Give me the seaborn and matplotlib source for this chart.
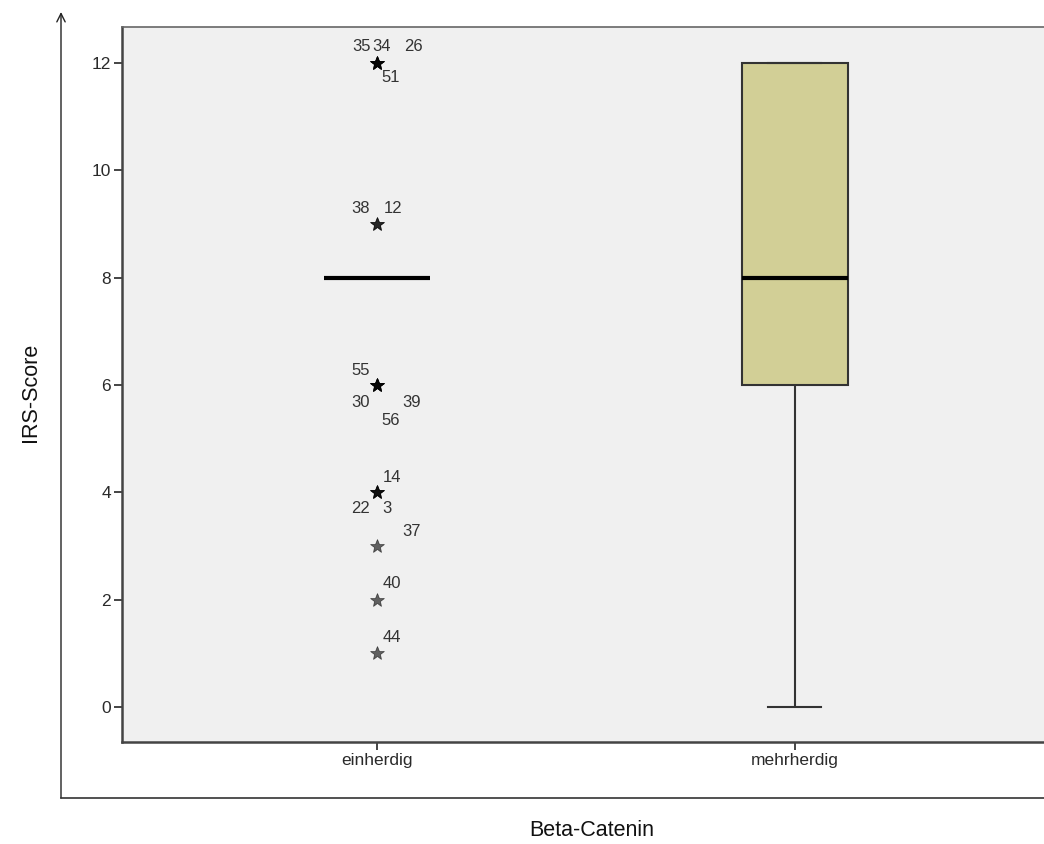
import numpy as np
import pandas as pd
import matplotlib
matplotlib.use("Agg")
import matplotlib.pyplot as plt
from matplotlib.lines import Line2D
from matplotlib.patches import FancyArrowPatch
import seaborn as sns

plt.rcParams["font.family"] = ["Liberation Sans", "DejaVu Sans"]

# ---- data -------------------------------------------------------------
groups = ["einherdig", "mehrherdig"]

# IRS scores per group (einherdig: bulk at 8 plus the labelled cases)
einherdig_scores = [8] * 26 + [12, 12, 12, 12, 9, 9, 6, 6, 6, 6, 4, 4, 4, 3, 2, 1]
mehrherdig_scores = [0, 2, 4, 6, 6, 6, 8, 8, 8, 9, 12, 12, 12, 12, 12]

# labelled cases of the einherdig group: score and case number
case_scores = [12, 12, 12, 12, 9, 9, 6, 6, 6, 6, 4, 4, 4, 3, 2, 1]
case_ids = ["35", "34", "26", "51", "38", "12", "55", "30", "39", "56",
            "14", "22", "3", "37", "40", "44"]

y_ticks = [0, 2, 4, 6, 8, 10, 12]
x_title = "Beta-Catenin"
y_title = "IRS-Score"

# label placement around each star (pixels)
label_offsets = [(-15, 16), (5, 16), (36, 16), (14, -15),
                 (-16, 16), (16, 16),
                 (-16, 15), (-16, -17), (35, -17), (14, -35),
                 (15, 15), (-16, -16), (10, -16),
                 (35, 15), (15, 16), (15, 16)]

df = pd.DataFrame({
    x_title: ["einherdig"] * len(einherdig_scores) + ["mehrherdig"] * len(mehrherdig_scores),
    y_title: einherdig_scores + mehrherdig_scores,
})

# ---- figure -----------------------------------------------------------
fig = plt.figure(figsize=(10.44, 8.44), dpi=100)
ax = fig.add_axes([122 / 1044, (844 - 742) / 844, 1 - 122 / 1044, (742 - 27) / 844])
ax.set_facecolor("#f0f0f0")

sns.boxplot(
    data=df, x=x_title, y=y_title, order=groups,
    color="#d2cf96", saturation=1, width=0.254,
    linewidth=1.5, linecolor="#333333", whis=1.5, fliersize=10,
    flierprops=dict(marker="*", markerfacecolor="black",
                    markeredgecolor="black", alpha=0.6, markeredgewidth=0.5),
    medianprops=dict(color="black", linewidth=3),
    ax=ax,
)

for val, cid, (dx, dy) in zip(case_scores, case_ids, label_offsets):
    ax.annotate(cid, xy=(0, val), xytext=(dx, dy), textcoords="offset pixels",
                ha="center", va="center", fontsize=12, color="#333333")

ax.set_xlim(-0.61, 1.596)
ax.set_ylim(-0.65, 12.67)
ax.set_yticks(y_ticks)
ax.set_yticklabels([str(t) for t in y_ticks], fontsize=12.5, color="#2a2a2a")
ax.set_xticks(range(len(groups)))
ax.set_xticklabels(groups, fontsize=12.5, color="#2a2a2a")
ax.tick_params(axis="both", direction="out", length=6, width=1.4, color="#444444", pad=2)
ax.set_xlabel("")
ax.set_ylabel("")

for side in ["left", "bottom"]:
    ax.spines[side].set_color("#444444")
    ax.spines[side].set_linewidth(1.8)
ax.spines["top"].set_color("#666666")
ax.spines["top"].set_linewidth(1.2)
ax.spines["right"].set_visible(False)

# outer chart frame with arrow on the vertical axis
fig.add_artist(Line2D([61 / 1044, 1.0], [(844 - 798) / 844] * 2,
                      transform=fig.transFigure, color="#333333", linewidth=1.2))
fig.add_artist(FancyArrowPatch(
    (61 / 1044, (844 - 798) / 844), (61 / 1044, (844 - 12) / 844),
    transform=fig.transFigure, arrowstyle="->,head_length=6,head_width=3",
    color="#222222", linewidth=1.0, shrinkA=0, shrinkB=0))

fig.text(592 / 1044, 1 - 830 / 844, x_title, ha="center", va="center",
         fontsize=15.5, color="#111111")
fig.text(30 / 1044, 1 - 392 / 844, y_title, ha="center", va="center",
         rotation=90, fontsize=15.5, color="#111111")

fig.savefig("out.png", dpi=100)
